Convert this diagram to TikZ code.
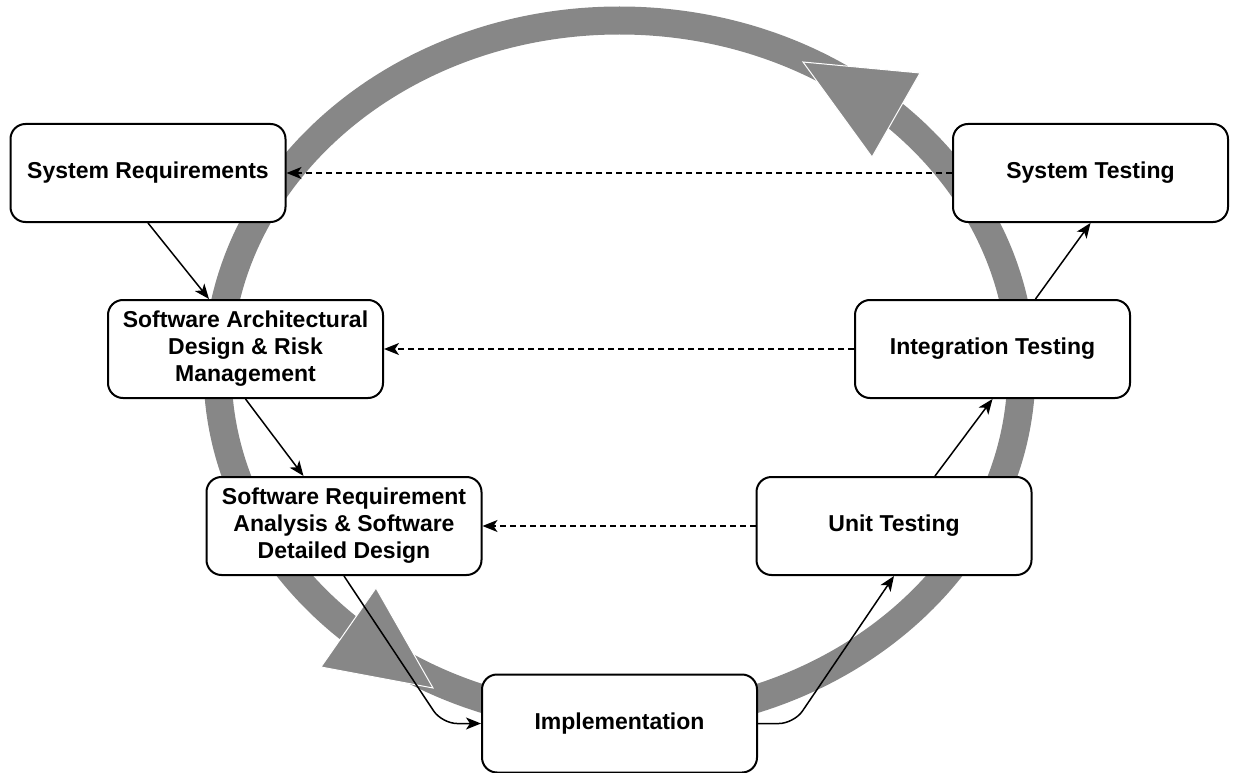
\documentclass[tikz,border=0pt]{standalone}
\usepackage{fontspec}
\setmainfont{Liberation Sans}
\usetikzlibrary{arrows.meta}
\definecolor{ringgray}{HTML}{878787}
\tikzstyle{phase} = [draw=black, line width=2pt, fill=white, rounded corners=15pt, minimum width=275pt, minimum height=98pt, align=center, font={\bfseries\fontsize{23}{27}\selectfont}]
\tikzstyle{flow} = [line width=1.5pt, -{Stealth[length=15pt,width=12pt,inset=4pt]}, rounded corners=15pt]
\tikzstyle{trace} = [flow, dash pattern=on 6pt off 4pt]
\tikzstyle{ring} = [draw=ringgray, line width=28pt]
\tikzstyle{ringtip} = [fill=ringgray, draw=white, line width=1pt]

\begin{document}
\begin{tikzpicture}[x=1pt, y=-1pt]
  \useasboundingbox (0,0) rectangle (1235,773);
  % cycle in the background
  \draw[ring] (619.5,370) ellipse [x radius=402pt, y radius=349.5pt];
  \filldraw[ringtip] (803,62) -- (920,73) -- (872,157) -- cycle;
  \filldraw[ringtip] (433,688) -- (321,667) -- (376,588) -- cycle;
  % phases
  \node[phase](sysreq) at (148,173){System Requirements};
  \node[phase](arch) at (245.5,349){Software Architectural\\Design \& Risk\\Management};
  \node[phase](swreq) at (344,526){Software Requirement\\Analysis \& Software\\Detailed Design};
  \node[phase](impl) at (619.5,723.5){Implementation};
  \node[phase](unit) at (894,526){Unit Testing};
  \node[phase](integ) at (992.5,349){Integration Testing};
  \node[phase](systest) at (1090.5,173){System Testing};
  % left branch
  \draw[flow](sysreq.south) -- ([xshift=102pt]arch.north west);
  \draw[flow](arch.south) -- ([xshift=98pt]swreq.north west);
  \draw[flow](swreq.south) -- ([xshift=-39pt]impl.west) -- (impl.west);
  % right branch
  \draw[flow](impl.east) -- ([xshift=36pt]impl.east) -- (unit.south);
  \draw[flow]([xshift=41pt]unit.north) -- (integ.south);
  \draw[flow]([xshift=43pt]integ.north) -- (systest.south);
  % verification
  \draw[trace](systest.west) -- (sysreq.east);
  \draw[trace](integ.west) -- (arch.east);
  \draw[trace](unit.west) -- (swreq.east);
\end{tikzpicture}
\end{document}
